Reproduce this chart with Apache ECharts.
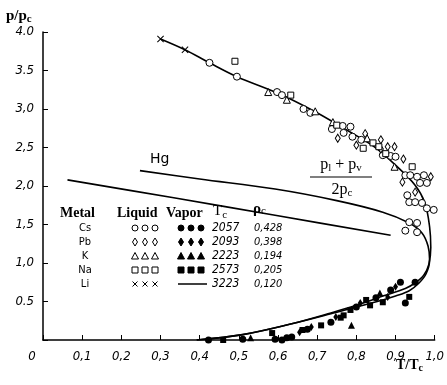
<!DOCTYPE html>
<html><head><meta charset="utf-8">
<script src="https://cdn.jsdelivr.net/npm/echarts@6/dist/echarts.min.js"></script>
<style>html,body{margin:0;padding:0;background:#fff}#c{width:447px;height:385px}</style>
</head><body><div id="c"></div>
<script>
// ---- tick labels ----
const xTickLabels = ['0','0,1','0,2','0,3','0,4','0,5','0,6','0,7','0,8','0,9','1,0'];
const yTickLabels = ['', '0.5', '1,0', '1,5', '2,0', '2,5', '3,0', '3.5', '4.0'];

// ---- curves [T/Tc, p/pc] ----
const liCurve = [[0.30,3.91],[0.3625,3.77],[0.425,3.60],[0.495,3.42],[0.5975,3.21],[0.6925,2.97],[0.7675,2.75],[0.8425,2.52],[0.90,2.27],[0.95,2.01],[0.975,1.78],[0.987,1.47],[0.99,1.20],[0.985,0.98],[0.972,0.84],[0.95,0.74],[0.925,0.67],[0.8675,0.57],[0.80,0.45],[0.735,0.35],[0.635,0.21],[0.51,0.07],[0.3925,0.0]];
const hgCurve = [[0.2475,2.20],[0.40,2.09],[0.5925,1.96],[0.75,1.81],[0.8675,1.66],[0.935,1.52],[0.9675,1.39],[0.983,1.22],[0.987,1.04],[0.978,0.86],[0.96,0.74],[0.935,0.64],[0.90,0.57],[0.8675,0.52],[0.80,0.43],[0.735,0.34],[0.635,0.21],[0.51,0.07],[0.3925,0.0]];
const diameterLine = [[0.0625,2.08],[0.33,1.85],[0.5925,1.62],[0.8875,1.36]];

// ---- liquid (open) points ----
const liqCs = [[0.425,3.60],[0.495,3.42],[0.5975,3.22],[0.61,3.18],[0.665,3.00],[0.6825,2.95],[0.7375,2.74],[0.765,2.78],[0.7675,2.69],[0.785,2.77],[0.79,2.64],[0.8125,2.60],[0.8675,2.40],[0.8875,2.39],[0.90,2.38],[0.925,2.14],[0.9375,2.14],[0.955,2.12],[0.9725,2.14],[0.9625,2.04],[0.98,2.04],[0.93,1.88],[0.935,1.79],[0.95,1.79],[0.9675,1.78],[0.98,1.71],[0.9975,1.69],[0.935,1.53],[0.955,1.52],[0.925,1.42],[0.955,1.40]];
const liqPb = [[0.7525,2.62],[0.80,2.53],[0.8225,2.68],[0.8625,2.60],[0.8625,2.48],[0.88,2.51],[0.8975,2.51],[0.92,2.35],[0.9175,2.05],[0.95,1.92],[0.99,2.12]];
const liqK = [[0.575,3.22],[0.6225,3.12],[0.695,2.97],[0.74,2.83],[0.8275,2.62],[0.8975,2.25]];
const liqNa = [[0.49,3.62],[0.6325,3.18],[0.75,2.79],[0.8175,2.49],[0.8425,2.56],[0.8575,2.51],[0.875,2.42],[0.9425,2.25]];
const liqLi = [[0.30,3.91],[0.3625,3.77]];

// ---- vapor (filled) points ----
const vapCs = [[0.4225,0.0],[0.51,0.01],[0.5925,0.01],[0.6225,0.03],[0.635,0.04],[0.675,0.14],[0.735,0.23],[0.80,0.43],[0.85,0.55],[0.8875,0.65],[0.925,0.48],[0.95,0.75],[0.9125,0.75],[0.61,0.0]];
const vapPb = [[0.655,0.10],[0.7475,0.30],[0.81,0.48],[0.88,0.56],[0.90,0.69],[0.685,0.17]];
const vapK = [[0.53,0.03],[0.7875,0.19],[0.86,0.61]];
const vapNa = [[0.46,0.0],[0.585,0.09],[0.6625,0.13],[0.71,0.19],[0.7675,0.32],[0.825,0.52],[0.835,0.45],[0.8675,0.49],[0.935,0.56],[0.76,0.29],[0.785,0.39]];

// ---- legend table ----
const metals = ['Cs','Pb','K','Na','Li'];
const tcValues = ['2057','2093','2223','2573','3223'];
const rhoValues = ['0,428','0,398','0,194','0,205','0,120'];
const legendSymbols = ['circle','diamond','triangle','rect','cross'];

const crossPath = 'path://M0,1L1,0L5,4L9,0L10,1L6,5L10,9L9,10L5,6L1,10L0,9L4,5Z';
const tickFont = 'DejaVu Sans Condensed';
const serif = 'Liberation Serif';

function lineSeries(data){
  return {type:'line', data, smooth:0.35, showSymbol:false, symbol:'none',
    lineStyle:{color:'#000', width:1.6}, z:2, silent:true};
}
function scatter(data, symbol, filled, size){
  return {type:'scatter', data, symbol, symbolSize:size,
    itemStyle:{color: filled ? '#000' : '#fff', borderColor:'#000', borderWidth: filled?0:1, opacity:1}, z:5};
}

// legend graphics
const g = [];
const rowY = [228, 242, 256, 270, 284];
function symG(type, cx, cy, filled){
  const st = {fill: filled ? '#000' : '#fff', stroke:'#000', lineWidth:1};
  if (type==='circle') return {type:'circle', shape:{cx, cy, r:3}, style:st};
  if (type==='diamond') return {type:'polygon', shape:{points:[[cx,cy-4],[cx+2.5,cy],[cx,cy+4],[cx-2.5,cy]]}, style:st};
  if (type==='triangle') return {type:'polygon', shape:{points:[[cx,cy-3.5],[cx+3.5,cy+3],[cx-3.5,cy+3]]}, style:st};
  if (type==='rect') return {type:'rect', shape:{x:cx-3, y:cy-3, width:6, height:6}, style:st};
  return {type:'group', children:[
    {type:'line', shape:{x1:cx-2.5,y1:cy-2.5,x2:cx+2.5,y2:cy+2.5}, style:{stroke:'#000', lineWidth:1}},
    {type:'line', shape:{x1:cx+2.5,y1:cy-2.5,x2:cx-2.5,y2:cy+2.5}, style:{stroke:'#000', lineWidth:1}}]};
}
function txt(text, x, y, font, align, extra){
  return {type:'text', x, y, style:Object.assign({text, font, fill:'#000', textAlign:align||'left', textVerticalAlign:'middle'}, extra||{})};
}
g.push(txt('Metal', 60, 213, 'bold 14px '+serif));
g.push(txt('Liquid', 117, 213, 'bold 14px '+serif));
g.push(txt('Vapor', 166, 213, 'bold 14px '+serif));
g.push(txt('{a|T}{b|c}', 213, 211, '14px '+serif, 'left', {rich:{a:{font:'15px '+serif, fill:'#000'}, b:{font:'11px '+serif, fill:'#000', padding:[8,0,0,0]}}}));
g.push(txt('{a|ρ}{b|c}', 253, 209, '14px '+serif, 'left', {rich:{a:{font:'bold 15px '+serif, fill:'#000'}, b:{font:'11px '+serif, fill:'#000', padding:[4,0,0,0]}}}));
metals.forEach((m,i)=>{
  const y = rowY[i];
  g.push(txt(m, 85, y, '11px DejaVu Sans Condensed', 'center'));
  [135,145,155].forEach(x=>g.push(symG(legendSymbols[i], x, y, false)));
  if (legendSymbols[i]==='cross') {
    g.push({type:'line', shape:{x1:178,y1:y,x2:207,y2:y}, style:{stroke:'#000', lineWidth:1.5}});
  } else {
    [181,191,201].forEach(x=>g.push(symG(legendSymbols[i], x, y, true)));
  }
  g.push(txt(tcValues[i], 212, y, 'italic 12px '+tickFont));
  g.push(txt(rhoValues[i], 254, y, 'italic 11px '+tickFont));
});
// annotations
g.push(txt('Hg', 150, 159, '14px DejaVu Sans'));
g.push(txt('{a|p}{b|l}{a| + p}{b|v}', 341, 165, '15px '+serif, 'center', {rich:{a:{font:'16px '+serif, fill:'#000'}, b:{font:'11px '+serif, fill:'#000', padding:[6,0,0,0]}}}));
g.push({type:'line', shape:{x1:310,y1:177,x2:372,y2:177}, style:{stroke:'#000', lineWidth:1.2}});
g.push(txt('{a|2p}{b|c}', 342, 190, '15px '+serif, 'center', {rich:{a:{font:'16px '+serif, fill:'#000'}, b:{font:'11px '+serif, fill:'#000', padding:[6,0,0,0]}}}));
// axis titles
g.push(txt('{a|p/p}{b|c}', 6, 16, '15px '+serif, 'left', {rich:{a:{font:'bold 15px '+serif, fill:'#000'}, b:{font:'bold 11px '+serif, fill:'#000', padding:[6,0,0,0]}}}));
g.push(txt('{a|T/T}{b|c}', 396, 365, '15px '+serif, 'left', {rich:{a:{font:'bold 14px '+serif, fill:'#000'}, b:{font:'bold 10px '+serif, fill:'#000', padding:[6,0,0,0]}}}));

const chart = echarts.init(document.getElementById('c'), null, {renderer:'canvas'});
chart.setOption({
  animation:false,
  backgroundColor:'#fff',
  grid:{left:43, right:4, top:32, bottom:45, containLabel:false},
  xAxis:{type:'value', min:0, max:1, interval:0.1,
    axisLine:{show:true, lineStyle:{color:'#000', width:1.5}},
    axisTick:{show:true, inside:true, length:5, lineStyle:{color:'#000'}},
    splitLine:{show:false},
    axisLabel:{margin:10, color:'#000', fontFamily:tickFont, fontStyle:'italic', fontSize:13,
      formatter:(v)=>{const i=Math.round(v*10); return i===0 ? '{z|0}' : xTickLabels[i];},
      rich:{z:{fontFamily:tickFont, fontStyle:'italic', fontSize:13, color:'#000', padding:[0,22,0,0]}}}
  },
  yAxis:{type:'value', min:0, max:4, interval:0.5,
    axisLine:{show:true, lineStyle:{color:'#000', width:1.5}},
    axisTick:{show:true, inside:true, length:5, lineStyle:{color:'#000'}},
    splitLine:{show:false},
    axisLabel:{margin:9, color:'#000', fontFamily:tickFont, fontStyle:'italic', fontSize:13,
      formatter:(v)=>yTickLabels[Math.round(v*2)]}
  },
  graphic:g,
  series:[
    lineSeries(liCurve),
    lineSeries(hgCurve),
    lineSeries(diameterLine),
    scatter(liqCs,'circle',false,7),
    scatter(liqPb,'diamond',false,[5,8]),
    scatter(liqK,'triangle',false,7),
    scatter(liqNa,'rect',false,6),
    scatter(liqLi,crossPath,true,7),
    scatter(vapCs,'circle',true,7),
    scatter(vapPb,'diamond',true,[5,8]),
    scatter(vapK,'triangle',true,7),
    scatter(vapNa,'rect',true,6)
  ]
});
</script></body></html>
